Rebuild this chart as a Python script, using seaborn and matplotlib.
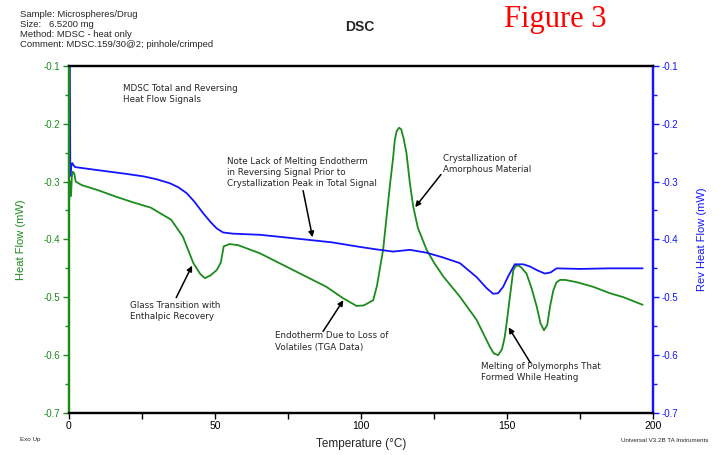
import numpy as np
import pandas as pd
import matplotlib
matplotlib.use("Agg")
import matplotlib.pyplot as plt
from matplotlib.ticker import MultipleLocator
import seaborn as sns

sns.set_style("white")
plt.rcParams['font.family'] = ['Liberation Sans', 'DejaVu Sans']

# total heat flow (green, left axis)
temp_total = [0.1, 0.4, 0.7, 1.0, 1.3, 1.8, 2.3, 4.3, 10, 16, 22, 28, 35, 39, 42.6, 45, 46.6,
              48.5, 50.6, 52, 53, 55, 58, 65.4, 76.8, 88.2, 94, 98.5, 101, 104.2, 105.5, 106.5,
              107.6, 108.8, 110, 111, 111.6, 112.3, 113.1, 113.8, 114.6, 115.6, 116.7, 117.9,
              119.5, 122.5, 125, 128.2, 133.9, 139.6, 144.2, 145.5, 147, 148.3, 149.2, 149.9,
              151, 152.2, 153, 153.9, 155, 156.7, 158.5, 160.2, 161.5, 162.7, 163.8, 164.8,
              165.9, 167, 168.2, 170, 174, 179.6, 185.3, 190, 196.5]
heat_flow = [-0.33, -0.30, -0.325, -0.29, -0.283, -0.286, -0.30, -0.306, -0.315, -0.326, -0.336,
             -0.345, -0.366, -0.395, -0.441, -0.460, -0.467, -0.462, -0.453, -0.44, -0.412,
             -0.408, -0.410, -0.424, -0.453, -0.482, -0.502, -0.515, -0.514, -0.505, -0.48,
             -0.45, -0.418, -0.36, -0.303, -0.26, -0.228, -0.212, -0.207, -0.21, -0.225, -0.251,
             -0.30, -0.343, -0.38, -0.418, -0.44, -0.464, -0.499, -0.539, -0.586, -0.597, -0.600,
             -0.590, -0.57, -0.545, -0.50, -0.453, -0.446, -0.445, -0.449, -0.459, -0.485,
             -0.516, -0.545, -0.557, -0.548, -0.515, -0.488, -0.474, -0.470, -0.470, -0.474,
             -0.482, -0.493, -0.50, -0.513]

# reversing heat flow (blue, right axis)
temp_rev = [0.25, 0.45, 0.8, 1.1, 1.6, 2.1, 8, 14, 20, 25.5, 30, 34.6, 37.5, 40.3, 43, 46, 48.5,
            50.6, 52.8, 56, 65.4, 75, 82.5, 90, 99.7, 105, 111, 116.8, 122.5, 128, 133.9, 139.6,
            143, 145.3, 147, 148.7, 150.5, 152.7, 155.6, 158, 160.2, 163, 165, 167, 175, 185, 196.5]
rev_heat_flow = [-0.05, -0.29, -0.273, -0.268, -0.272, -0.275, -0.279, -0.283, -0.287, -0.291,
                 -0.296, -0.303, -0.310, -0.320, -0.335, -0.355, -0.370, -0.381, -0.388, -0.390,
                 -0.392, -0.397, -0.401, -0.405, -0.413, -0.417, -0.421, -0.418, -0.423, -0.431,
                 -0.441, -0.465, -0.484, -0.494, -0.493, -0.482, -0.463, -0.443, -0.443, -0.447,
                 -0.453, -0.459, -0.457, -0.450, -0.451, -0.450, -0.450]

green = '#1b8c1b'
blue = '#1414ff'

fig = plt.figure(figsize=(7.2, 4.55), dpi=100)
ax = fig.add_axes([0.0958, 0.0923, 0.811, 0.763])
ax2 = ax.twinx()

sns.lineplot(x=temp_total, y=heat_flow, ax=ax, color=green, lw=1.3, estimator=None, sort=False)
sns.lineplot(x=temp_rev, y=rev_heat_flow, ax=ax2, color=blue, lw=1.3, estimator=None, sort=False)

for a in (ax, ax2):
    a.set_xlim(0, 200)
    a.set_ylim(-0.7, -0.1)
    a.yaxis.set_major_locator(MultipleLocator(0.1))
    a.yaxis.set_minor_locator(MultipleLocator(0.05))
    for s in a.spines.values():
        s.set_linewidth(1.6)
    a.spines['top'].set_color('black')
    a.spines['bottom'].set_color('black')
    a.spines['left'].set_color(green)
    a.spines['right'].set_color(blue)

ax.xaxis.set_major_locator(MultipleLocator(50))
ax.xaxis.set_minor_locator(MultipleLocator(25))
ax.tick_params(axis='x', which='both', bottom=True, direction='out', length=4, width=1,
               labelsize=7.5, colors='black', pad=2)
ax.tick_params(axis='y', which='both', left=True, direction='out', length=4, width=1,
               labelsize=7, colors=green, pad=2)
ax.tick_params(axis='y', which='minor', length=3)
ax2.tick_params(axis='y', which='both', right=True, direction='out', length=4, width=1,
                labelsize=7, colors=blue, pad=2)
ax2.tick_params(axis='y', which='minor', length=3)
ax.set_yticklabels([f'{v:.1f}' for v in ax.get_yticks()])
ax2.set_yticklabels([f'{v:.1f}' for v in ax2.get_yticks()])

ax.set_xlabel('Temperature (°C)', fontsize=8.5, labelpad=5)
ax.set_ylabel('Heat Flow (mW)', fontsize=8, color=green, labelpad=13)
ax2.set_ylabel('Rev Heat Flow (mW)', fontsize=8, color=blue, labelpad=14)

# header
fig.text(20 / 720, 1 - 10 / 455, 'Sample: Microspheres/Drug\nSize:   6.5200 mg\nMethod: MDSC - heat only\nComment: MDSC.159/30@2; pinhole/crimped',
         fontsize=6.8, va='top', ha='left', linespacing=1.15)
fig.text(360 / 720, 1 - 27 / 455, 'DSC', fontsize=10, fontweight='bold', ha='center', va='center')
fig.text(555 / 720, 1 - 20 / 455, 'Figure 3', fontsize=22, color='red', ha='center', va='center',
         family=['Liberation Serif', 'DejaVu Serif'])
fig.text(30 / 720, 1 - 440 / 455, 'Exo Up', fontsize=4.5, ha='center', va='center')
fig.text(665 / 720, 1 - 440 / 455, 'Universal V3.2B TA Instruments', fontsize=4.5, ha='center', va='center')

# annotations
note_kw = dict(fontsize=6.3, ha='left', va='top', linespacing=1.3, family=['DejaVu Sans'])
arrow_kw = dict(arrowstyle='-|>', color='black', lw=1.1, mutation_scale=8)
ax.text(18.5, -0.132, 'MDSC Total and Reversing\nHeat Flow Signals', **note_kw)
ax.text(54, -0.257, 'Note Lack of Melting Endotherm\nin Reversing Signal Prior to\nCrystallization Peak in Total Signal', **note_kw)
ax.annotate('', xy=(83.6, -0.401), xytext=(80, -0.311), arrowprops=arrow_kw)
ax.text(21, -0.507, 'Glass Transition with\nEnthalpic Recovery', **note_kw)
ax.annotate('', xy=(42.6, -0.441), xytext=(36.3, -0.505), arrowprops=arrow_kw)
ax.text(70.5, -0.559, 'Endotherm Due to Loss of\nVolatiles (TGA Data)', **note_kw)
ax.annotate('', xy=(94.5, -0.501), xytext=(86.5, -0.563), arrowprops=arrow_kw)
ax.text(128, -0.253, 'Crystallization of\nAmorphous Material', **note_kw)
ax.annotate('', xy=(118, -0.348), xytext=(128, -0.284), arrowprops=arrow_kw)
ax.text(141, -0.611, 'Melting of Polymorphs That\nFormed While Heating', **note_kw)
ax.annotate('', xy=(150.1, -0.548), xytext=(158.5, -0.617), arrowprops=arrow_kw)

fig.savefig('out.png', dpi=100)
